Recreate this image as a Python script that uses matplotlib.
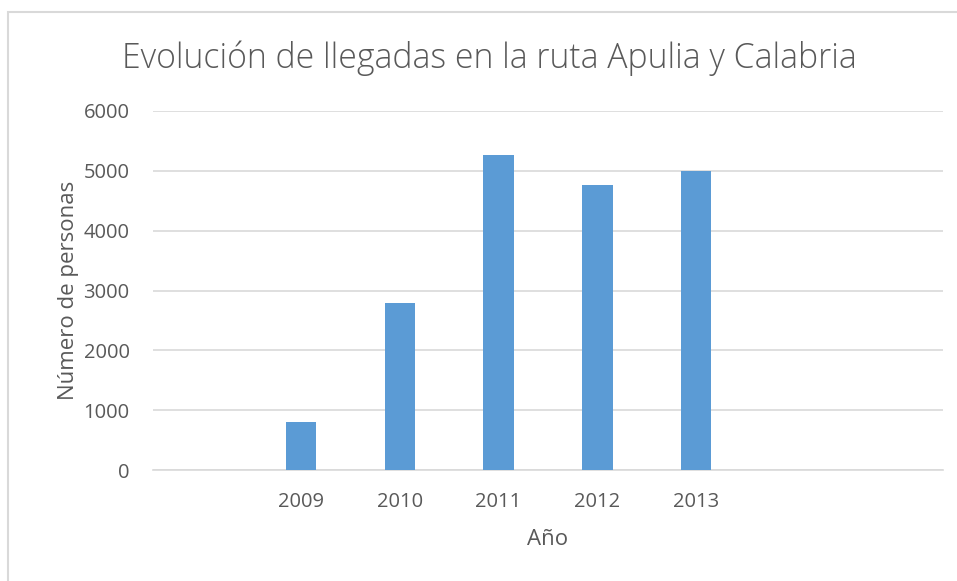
import numpy as np
import matplotlib
matplotlib.use('Agg')
from matplotlib import pyplot as plt
from matplotlib.patches import Rectangle

# categories on the x axis (Excel kept empty slots around the years)
categories = ['', '2009', '2010', '2011', '2012', '2013', '', '']
personas = [np.nan, 803, 2783, 5259, 4769, 4997, np.nan, np.nan]
yticks = [0, 1000, 2000, 3000, 4000, 5000, 6000]

bar_color = '#5B9BD5'
grid_color = '#D9D9D9'
text_color = '#595959'

plt.rcParams['font.family'] = ['Open Sans', 'DejaVu Sans']

fig = plt.figure(figsize=(9.57, 5.81), dpi=100)
fig.patches.append(Rectangle((8 / 957, -0.1), 1.2, 1 - 12 / 581 + 0.1,
                             transform=fig.transFigure, fill=False,
                             edgecolor=grid_color, linewidth=1.5))

ax = fig.add_axes([0.160, 0.191, 0.825, 0.618])
x = np.arange(len(categories))
ax.bar(x, personas, width=0.31, color=bar_color, zorder=3)

ax.set_xlim(-0.5, len(categories) - 0.5)
ax.set_ylim(0, 6000)
ax.set_yticks(yticks)
ax.set_xticks(x)
ax.set_xticklabels(categories)
ax.yaxis.grid(True, color=grid_color, linewidth=1.2, zorder=0)
for s in ['top', 'right', 'left']:
    ax.spines[s].set_visible(False)
ax.spines['bottom'].set_color(grid_color)
ax.spines['bottom'].set_linewidth(1.2)
ax.tick_params(axis='both', length=0, labelsize=14.5, colors=text_color)
ax.tick_params(axis='x', pad=16)
ax.tick_params(axis='y', pad=17)

ax.set_xlabel('Año', fontsize=16, color=text_color, labelpad=12)
ax.set_ylabel('Número de personas', fontsize=16, color=text_color, labelpad=3)
fig.text(489 / 957, 1 - 58 / 581, 'Evolución de llegadas en la ruta Apulia y Calabria',
         ha='center', va='center', fontsize=24.3, color=text_color, fontweight='light')

fig.savefig('out.png', dpi=100)
